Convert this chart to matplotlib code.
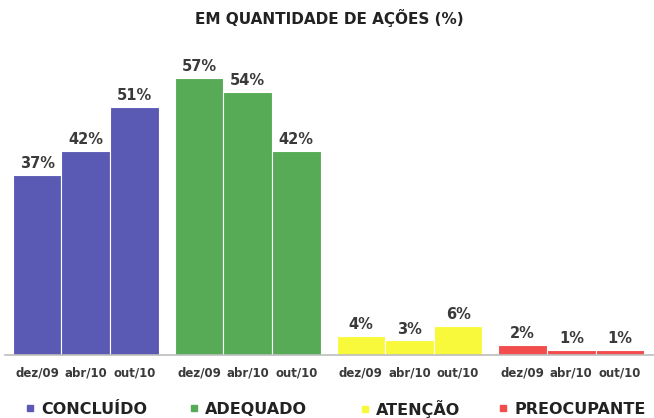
import matplotlib
matplotlib.use("Agg")
import matplotlib.pyplot as plt
from matplotlib.lines import Line2D
from matplotlib.transforms import blended_transform_factory

# Data
groups = ["CONCLUÍDO", "ADEQUADO", "ATENÇÃO", "PREOCUPANTE"]
periods = ["dez/09", "abr/10", "out/10"]
concluido = [37, 42, 51]
adequado = [57, 54, 42]
atencao = [4, 3, 6]
preocupante = [2, 1, 1]
series = [concluido, adequado, atencao, preocupante]
colors = ["#5a5ab4", "#57ab57", "#f9f93c", "#f24c4c"]

W, H = 654, 418
fig = plt.figure(figsize=(W / 100, H / 100), dpi=100)
ax = fig.add_axes([5 / W, 63 / H, 649 / W, 292 / H])

gap = 0.33
xt, xl = [], []
for g, (vals, col) in enumerate(zip(series, colors)):
    base = g * (3 + gap)
    xs = [base + j + 0.5 for j in range(3)]
    bars = ax.bar(xs, vals, width=1.0, color=col, edgecolor="white", linewidth=0.8)
    for b, v in zip(bars, vals):
        ax.text(b.get_x() + b.get_width() / 2, v + 0.8, f"{v}%",
                ha="center", va="bottom", fontsize=10.5, fontweight="bold",
                color="#3a3a3a")
    xt += xs
    xl += periods

ax.set_xlim(-0.16, 4 * 3 + 3 * gap + 0.2)
ax.set_ylim(0, 60)
ax.set_xticks(xt)
ax.set_xticklabels(xl, fontsize=8.5, fontweight="bold", color="#3a3a3a")
ax.tick_params(axis="x", length=0, pad=8)
ax.set_yticks([])
for s in ["top", "right", "left"]:
    ax.spines[s].set_visible(False)
ax.spines["bottom"].set_color("#bdbdbd")
ax.spines["bottom"].set_linewidth(1.2)

fig.text(329 / W, 1 - 18 / H, "EM QUANTIDADE DE AÇÕES (%)", ha="center",
         va="center", fontsize=11, fontweight="bold", color="#222222")

# One legend entry centred under each group
trans = blended_transform_factory(ax.transData, fig.transFigure)
for g, (name, col) in enumerate(zip(groups, colors)):
    center = g * (3 + gap) + 1.5
    h = Line2D([], [], marker="s", linestyle="none", markersize=4.5,
               markerfacecolor=col, markeredgecolor=col)
    fig.legend([h], [name], loc="center", bbox_to_anchor=(center, 9 / H),
               bbox_transform=trans, frameon=False, handletextpad=0.3,
               handlelength=0.8, borderpad=0,
               prop={"size": 11.5, "weight": "bold"}, labelcolor="#222222")

fig.savefig("out.png", dpi=100)
